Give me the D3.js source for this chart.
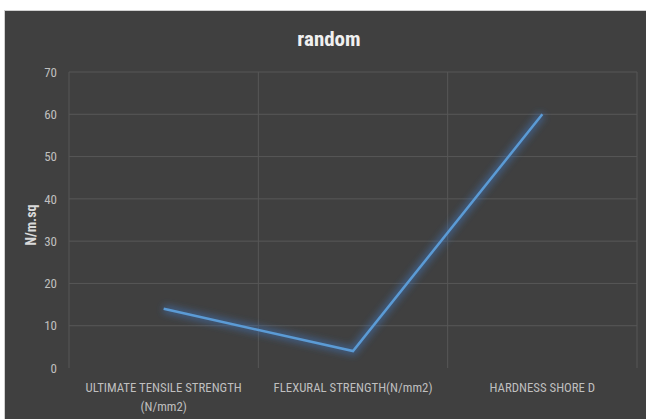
<!DOCTYPE html>
<html>
<head>
<meta charset="utf-8">
<script src="https://cdn.jsdelivr.net/npm/d3@7"></script>
<style>
  body { margin: 0; background: #fff; }
  svg { display: block; }
  text { font-family: "Liberation Sans Narrow", "Roboto Condensed", Roboto, sans-serif; }
</style>
</head>
<body>
<svg></svg>
<script>
const width = 646, height = 419;

// Chart data
const categories = ["ULTIMATE TENSILE STRENGTH (N/mm2)", "FLEXURAL STRENGTH(N/mm2)", "HARDNESS SHORE D"];
const values = [14, 4, 60];
const yTicks = [0, 10, 20, 30, 40, 50, 60, 70];

const svg = d3.select("svg").attr("width", width).attr("height", height);

// Dark panel
svg.append("rect")
    .attr("x", 4.5).attr("y", 10.5)
    .attr("width", width - 4).attr("height", height - 10)
    .attr("fill", "#404040")
    .attr("stroke", "#d0d0d0");

const plot = { left: 69, right: 637, top: 72, bottom: 368 };

const x = d3.scaleBand().domain(categories).range([plot.left, plot.right]);
const y = d3.scaleLinear().domain([0, 70]).range([plot.bottom, plot.top]);

// Glow filter for the line
const defs = svg.append("defs");
const glow = defs.append("filter").attr("id", "glow")
    .attr("x", "-20%").attr("y", "-20%").attr("width", "140%").attr("height", "140%");
glow.append("feGaussianBlur").attr("stdDeviation", 3.5).attr("result", "blur");

// Horizontal gridlines
svg.append("g")
    .selectAll("line")
    .data(yTicks.filter(d => d > 0))
    .enter().append("line")
    .attr("x1", plot.left).attr("x2", plot.right)
    .attr("y1", d => y(d)).attr("y2", d => y(d))
    .attr("stroke", "#575757");

// Vertical gridlines at band edges
svg.append("g")
    .selectAll("line")
    .data(categories.map(c => x(c)).concat([plot.right]))
    .enter().append("line")
    .attr("x1", d => d).attr("x2", d => d)
    .attr("y1", plot.top).attr("y2", plot.bottom)
    .attr("stroke", "#575757");

// Y axis labels
const yAxis = svg.append("g")
    .attr("transform", `translate(${plot.left - 12},0)`)
    .call(d3.axisLeft(y).tickValues(yTicks).tickSize(0).tickPadding(0));
yAxis.select(".domain").remove();
yAxis.selectAll("text")
    .attr("fill", "#bfbfbf")
    .style("font-size", "13px");

// X axis labels
const xAxis = svg.append("g")
    .attr("transform", `translate(0,${plot.bottom})`)
    .call(d3.axisBottom(x).tickSize(0).tickPadding(15));
xAxis.select(".domain").remove();
xAxis.selectAll("text")
    .attr("fill", "#bfbfbf")
    .style("font-size", "12.8px")
    .each(function(d) {
        const t = d3.select(this);
        const m = d.match(/^(.*STRENGTH) (\(.*\))$/);
        if (m) {
            t.text(null);
            t.append("tspan").attr("x", 0).attr("dy", "0.71em").text(m[1]);
            t.append("tspan").attr("x", 0).attr("dy", "1.5em").text(m[2]);
            t.attr("dy", null);
        }
    });

// Title
svg.append("text")
    .attr("x", 329).attr("y", 46)
    .attr("text-anchor", "middle")
    .attr("fill", "#f0f0f0")
    .style("font-size", "21px")
    .style("font-weight", "bold")
    .text("random");

// Y axis title
svg.append("text")
    .attr("transform", "translate(36,225) rotate(-90)")
    .attr("text-anchor", "middle")
    .attr("fill", "#d9d9d9")
    .style("font-size", "14px")
    .style("font-weight", "bold")
    .text("N/m.sq");

// Line
const line = d3.line()
    .x((d, i) => x(categories[i]) + x.bandwidth() / 2)
    .y(d => y(d));

svg.append("path")
    .datum(values)
    .attr("d", line)
    .attr("fill", "none")
    .attr("stroke", "#3f6fb0")
    .attr("stroke-width", 8)
    .attr("stroke-opacity", 0.6)
    .attr("filter", "url(#glow)");

svg.append("path")
    .datum(values)
    .attr("d", line)
    .attr("fill", "none")
    .attr("stroke", "#5b9bd5")
    .attr("stroke-width", 2.5)
    .attr("stroke-linejoin", "miter");
</script>
</body>
</html>
